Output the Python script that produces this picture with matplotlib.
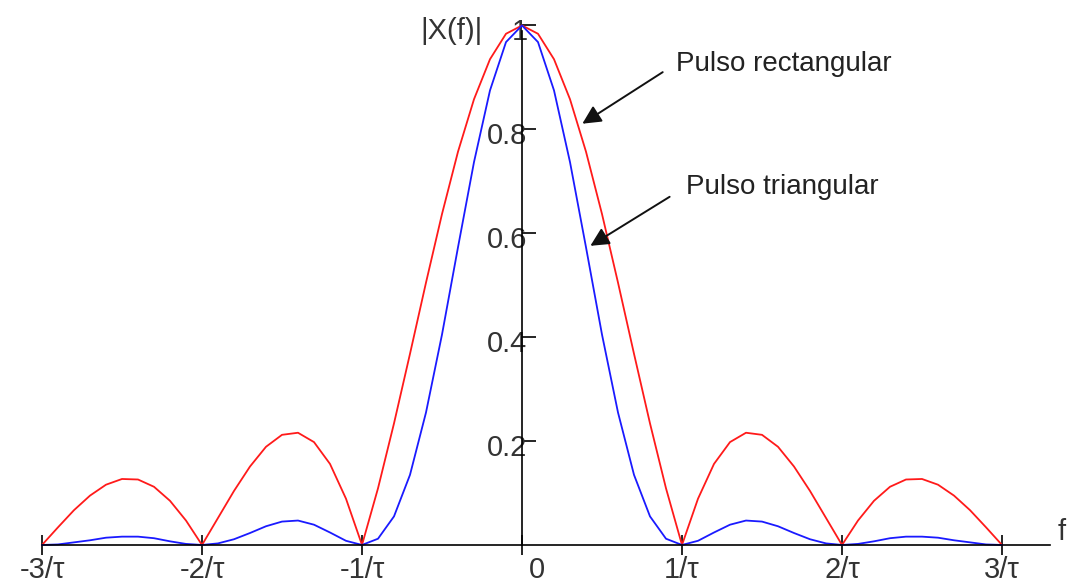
import numpy as np
import matplotlib
matplotlib.use("Agg")
import matplotlib.pyplot as plt
import matplotlib.transforms as mtransforms

plt.rcParams['font.family'] = ['Liberation Sans', 'DejaVu Sans']

# frequency in units of 1/tau
freq = [-3.0, -2.9, -2.8, -2.7, -2.6, -2.5, -2.4, -2.3, -2.2, -2.1,
        -2.0, -1.9, -1.8, -1.7, -1.6, -1.5, -1.4, -1.3, -1.2, -1.1,
        -1.0, -0.9, -0.8, -0.7, -0.6, -0.5, -0.4, -0.3, -0.2, -0.1,
        0.0, 0.1, 0.2, 0.3, 0.4, 0.5, 0.6, 0.7, 0.8, 0.9,
        1.0, 1.1, 1.2, 1.3, 1.4, 1.5, 1.6, 1.7, 1.8, 1.9,
        2.0, 2.1, 2.2, 2.3, 2.4, 2.5, 2.6, 2.7, 2.8, 2.9, 3.0]

# |X(f)| for the rectangular pulse (red)
rect_mag = [0.0, 0.034, 0.067, 0.095, 0.116, 0.127, 0.126, 0.112, 0.085, 0.047,
            0.0, 0.052, 0.104, 0.151, 0.189, 0.212, 0.216, 0.198, 0.156, 0.089,
            0.0, 0.109, 0.234, 0.368, 0.505, 0.637, 0.757, 0.858, 0.935, 0.984,
            1.0, 0.984, 0.935, 0.858, 0.757, 0.637, 0.505, 0.368, 0.234, 0.109,
            0.0, 0.089, 0.156, 0.198, 0.216, 0.212, 0.189, 0.151, 0.104, 0.052,
            0.0, 0.047, 0.085, 0.112, 0.126, 0.127, 0.116, 0.095, 0.067, 0.034, 0.0]

# |X(f)| for the triangular pulse (blue)
tri_mag = [0.0, 0.001, 0.005, 0.009, 0.014, 0.016, 0.016, 0.013, 0.007, 0.002,
           0.0, 0.003, 0.011, 0.023, 0.036, 0.045, 0.047, 0.039, 0.024, 0.008,
           0.0, 0.012, 0.055, 0.135, 0.255, 0.405, 0.573, 0.737, 0.875, 0.968,
           1.0, 0.968, 0.875, 0.737, 0.573, 0.405, 0.255, 0.135, 0.055, 0.012,
           0.0, 0.008, 0.024, 0.039, 0.047, 0.045, 0.036, 0.023, 0.011, 0.003,
           0.0, 0.002, 0.007, 0.013, 0.016, 0.016, 0.014, 0.009, 0.005, 0.001, 0.0]

xticks = [-3, -2, -1, 0, 1, 2, 3]
xtick_labels = ['-3/τ', '-2/τ', '-1/τ', '0', '1/τ', '2/τ', '3/τ']
yticks = [0.2, 0.4, 0.6, 0.8, 1.0]
ytick_labels = ['0.2', '0.4', '0.6', '0.8', '1']

fig = plt.figure(figsize=(10.76, 5.86), dpi=100)
ax = fig.add_axes([0, 0, 1, 1])
ax.set_xlim(-3.2625, 3.4625)
ax.set_ylim(-0.079, 1.049)

ax.plot(freq, rect_mag, color='#ff1a1a', lw=1.3)
ax.plot(freq, tri_mag, color='#1a1aff', lw=1.3)

# axes through the origin
for side in ['top', 'right']:
    ax.spines[side].set_visible(False)
ax.spines['left'].set_position(('data', 0))
ax.spines['bottom'].set_position(('data', 0))
ax.spines['left'].set_bounds(0, 0.99)
ax.spines['bottom'].set_bounds(-3, 3.3)
ax.spines['left'].set_linewidth(1.2)
ax.spines['bottom'].set_linewidth(1.2)

ax.set_xticks(xticks)
ax.set_xticklabels(xtick_labels, fontsize=21, color='#333333')
ax.tick_params(axis='x', direction='inout', length=14, width=1.2, pad=1)
ax.set_yticks(yticks)
ax.set_yticklabels(ytick_labels, fontsize=21, color='#333333')
ax.tick_params(axis='y', direction='in', length=10, width=1.2, pad=-4)
# labels sit a little below their ticks
for lab in ax.get_yticklabels():
    lab.set_verticalalignment('center')
    lab.set_transform(lab.get_transform() + mtransforms.ScaledTranslation(0, -5 / 72, fig.dpi_scale_trans))
zero_lab = ax.get_xticklabels()[3]
zero_lab.set_transform(zero_lab.get_transform() + mtransforms.ScaledTranslation(11 / 72, 0, fig.dpi_scale_trans))

ax.text(-0.44, 0.99, '|X(f)|', fontsize=21, color='#333333', ha='center', va='center')
ax.text(3.35, 0.025, 'f', fontsize=21, color='#333333', ha='left', va='center')

arrow = dict(arrowstyle='-|>', color='#111111', lw=1.4, mutation_scale=28)
ax.annotate('', xy=(0.3625, 0.808), xytext=(0.894, 0.913), arrowprops=arrow)
ax.annotate('', xy=(0.4125, 0.573), xytext=(0.9375, 0.673), arrowprops=arrow)
ax.text(0.9625, 0.925, 'Pulso rectangular', fontsize=20, color='#222222', ha='left', va='center')
ax.text(1.025, 0.69, 'Pulso triangular', fontsize=20, color='#222222', ha='left', va='center')

fig.savefig('out.png', dpi=100)
